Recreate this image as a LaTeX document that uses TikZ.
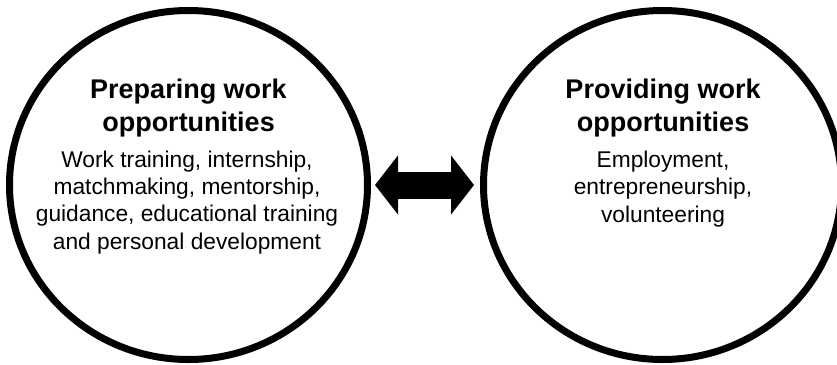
\documentclass[tikz,border=0pt]{standalone}
\usepackage{fontspec}
\setmainfont{Liberation Sans}
\usetikzlibrary{shapes.geometric,arrows.meta}
\begin{document}
\begin{tikzpicture}[x=1pt,y=-1pt,
  ring/.style={ellipse,draw=black,line width=7pt,minimum width=358pt,minimum height=349pt,inner sep=0pt},
  titletext/.style={align=center,inner sep=0pt,anchor=base,font=\fontsize{27}{33}\selectfont\bfseries},
  bodytext/.style={align=center,inner sep=0pt,anchor=base,font=\fontsize{22.75}{27.3}\selectfont},
  bigarrow/.style={line width=27pt,{Triangle[length=23pt,width=58pt]}-{Triangle[length=23pt,width=58pt]}}]
\useasboundingbox (0,0) rectangle (837,364);
\node[ring] (L) at (188.5,185) {};
\node[ring] (R) at (662.5,185) {};
\node[titletext] (Lt) at (188.5,131) {Preparing work\\opportunities};
\node[bodytext] (Lb) at (187,249) {Work training, internship,\\matchmaking, mentorship,\\guidance, educational training\\and personal development};
\node[titletext] (Rt) at (663,131) {Providing work\\opportunities};
\node[bodytext] (Rb) at (663,222) {Employment,\\entrepreneurship,\\volunteering};
\draw[bigarrow] ([xshift=4pt]L.east) -- ([xshift=-6pt]R.west);
\end{tikzpicture}
\end{document}
